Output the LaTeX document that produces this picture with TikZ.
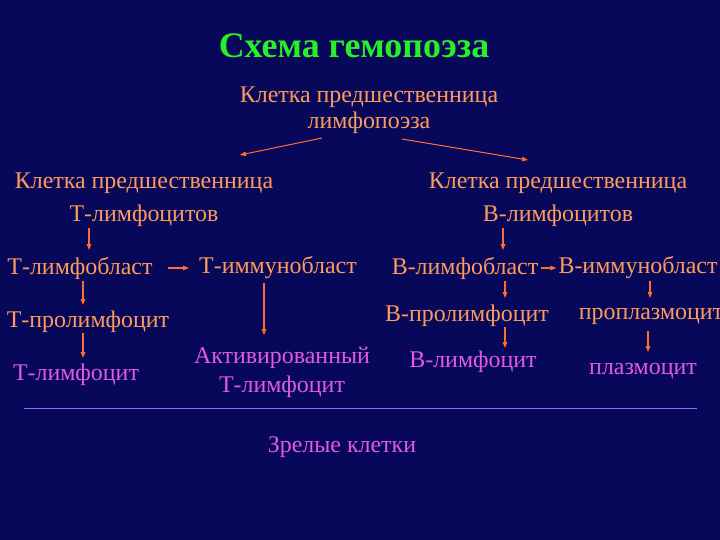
\documentclass[tikz,border=0pt]{standalone}
\usepackage{fontspec}
\setmainfont{Liberation Serif}
\usetikzlibrary{arrows.meta}
\definecolor{slidebg}{RGB}{8,8,90}
\definecolor{titlegreen}{RGB}{40,240,40}
\definecolor{cellorange}{RGB}{255,155,90}
\definecolor{cellpink}{RGB}{225,90,225}
\definecolor{arrorange}{RGB}{255,110,45}
\definecolor{linepurple}{RGB}{150,100,255}
\begin{document}
\begin{tikzpicture}[x=1bp, y=-1bp,
  cell/.style={text=cellorange, font=\fontsize{24}{26}\selectfont, inner sep=0pt, align=center},
  mature/.style={text=cellpink, font=\fontsize{24}{26}\selectfont, inner sep=0pt, align=center},
  arr/.style={-{Triangle[length=6pt, width=4.5pt]}, line width=1.3pt, color=arrorange}]

  % Background
  \fill[slidebg] (0,0) rectangle (720,540);
  \useasboundingbox (0,0) rectangle (720,540);

  % Title
  \node[text=titlegreen, font=\fontsize{36}{40}\selectfont\bfseries, inner sep=0pt] (title) at (354,46) {Схема гемопоэза};

  % Top
  \node[cell] (root) at (369,110) {Клетка предшественница\\лимфопоэза};

  % Second row
  \node[cell] (tprog) at (144,200) {Клетка предшественница\\[7bp]Т-лимфоцитов};
  \node[cell] (bprog) at (558,200) {Клетка предшественница\\[7bp]В-лимфоцитов};

  % Blasts
  \node[cell] (tlb) at (80,268) {Т-лимфобласт};
  \node[cell] (tib) at (278,268) {Т-иммунобласт};
  \node[cell] (blb) at (465,268) {В-лимфобласт};
  \node[cell] (bib) at (638,268) {В-иммунобласт};

  % Pro cells
  \node[cell] (tpl) at (88,322) {Т-пролимфоцит};
  \node[cell] (bpl) at (467,316) {В-пролимфоцит};
  \node[cell] (ppc) at (651,316) {проплазмоцит};

  % Mature cells
  \node[mature] (tly) at (76,375) {Т-лимфоцит};
  \node[mature] (atl) at (282,372) {Активированный\\[3bp]Т-лимфоцит};
  \node[mature] (bly) at (473,362) {В-лимфоцит};
  \node[mature] (plc) at (643,371) {плазмоцит};

  % Separator and caption
  \coordinate (sepL) at (24,408);
  \coordinate (sepR) at (697,408);
  \draw[linepurple, line width=1pt] (sepL) -- (sepR);
  \node[mature] (ripe) at (342,447) {Зрелые клетки};

  % Arrows
  \draw[arr, line width=1pt] ([shift={(-47,28)}]root.center) -- ([shift={(96,-45)}]tprog.center);
  \draw[arr, line width=1pt] ([shift={(33,29)}]root.center) -- ([shift={(-30,-40)}]bprog.center);
  \draw[arr] ([shift={(-55,28)}]tprog.center) -- ([shift={(9,-18)}]tlb.center);
  \draw[arr] ([shift={(-55,28)}]bprog.center) -- ([shift={(38,-18)}]blb.center);
  \draw[arr] ([xshift=15bp]tlb.east) -- ([xshift=-10bp]tib.west);
  \draw[arr] ([xshift=3bp]blb.east) -- ([xshift=-2bp]bib.west);
  \draw[arr] ([shift={(3,13)}]tlb.center) -- ([shift={(-5,-17)}]tpl.center);
  \draw[arr] ([shift={(-14,15)}]tib.center) -- ([shift={(-18,-37)}]atl.center);
  \draw[arr] ([shift={(40,13)}]blb.center) -- ([shift={(38,-18)}]bpl.center);
  \draw[arr] ([shift={(12,13)}]bib.center) -- ([shift={(-1,-18)}]ppc.center);
  \draw[arr] ([shift={(-5,11)}]tpl.center) -- ([shift={(7,-17)}]tly.center);
  \draw[arr] ([shift={(38,11)}]bpl.center) -- ([shift={(32,-14)}]bly.center);
  \draw[arr] ([shift={(-3,15)}]ppc.center) -- ([shift={(5,-19)}]plc.center);

\end{tikzpicture}
\end{document}
